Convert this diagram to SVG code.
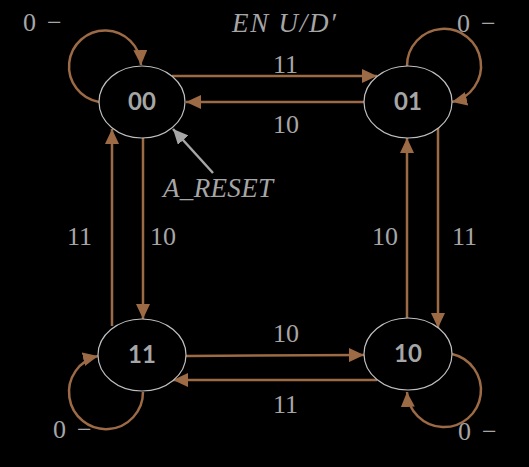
<svg xmlns="http://www.w3.org/2000/svg" width="529" height="467" viewBox="0 0 529 467">
<style>
.node{fill:#000;stroke:#bfbfbf;stroke-width:1.2}
.nt{font-family:Lato,"Open Sans",sans-serif;font-weight:bold;font-size:24px;fill:#a6a6a6;text-anchor:middle}
.lb{font-family:"Liberation Serif",serif;font-size:26px;fill:#a6a6a6}
.it{font-family:"Liberation Serif",serif;font-style:italic;font-size:27px;fill:#a6a6a6}
.e{fill:none;stroke:#9c6a44;stroke-width:2.5}
</style>
<defs>
<marker id="ah" markerUnits="userSpaceOnUse" markerWidth="16" markerHeight="14" refX="15" refY="7" orient="auto">
<path d="M0,0 L15,7 L0,14 Z" fill="#9c6a44"/>
</marker>
<marker id="ag" markerUnits="userSpaceOnUse" markerWidth="16" markerHeight="14" refX="15" refY="7" orient="auto">
<path d="M0,0 L15,7 L0,14 Z" fill="#a6a6a6"/>
</marker>
</defs>
<rect width="529" height="467" fill="#000"/>
<g id="connectors">
<path class="e" d="M172,76 L377,76" marker-end="url(#ah)"/>
<path class="e" d="M364,102 L186,102" marker-end="url(#ah)"/>
<path class="e" d="M143,138 L143,319" marker-end="url(#ah)"/>
<path class="e" d="M112,326 L112,129" marker-end="url(#ah)"/>
<path class="e" d="M438,127 L438,328" marker-end="url(#ah)"/>
<path class="e" d="M407,318 L407,138" marker-end="url(#ah)"/>
<path class="e" d="M186,356 L364,355" marker-end="url(#ah)"/>
<path class="e" d="M377,380 L173,380" marker-end="url(#ah)"/>
<path class="e" d="M99,102 A36 36 0 1 1 141,65" marker-end="url(#ah)"/>
<path class="e" d="M407,66 A37 37 0 1 1 452,102" marker-end="url(#ah)"/>
<path class="e" d="M143,392 A37 37 0 1 1 98,356" marker-end="url(#ah)"/>
<path class="e" d="M452,354 A37 37 0 1 1 407,392" marker-end="url(#ah)"/>
<path d="M213,173 L173,129" fill="none" stroke="#a6a6a6" stroke-width="2.5" marker-end="url(#ag)"/>
</g>
<g id="n00"><ellipse class="node" cx="142" cy="102" rx="43" ry="36"/><text class="nt" x="142" y="110">00</text></g>
<g id="n01"><ellipse class="node" cx="408" cy="102" rx="44" ry="36"/><text class="nt" x="408" y="110">01</text></g>
<g id="n11"><ellipse class="node" cx="142" cy="355" rx="44" ry="36"/><text class="nt" x="142" y="363">11</text></g>
<g id="n10"><ellipse class="node" cx="408" cy="354" rx="44" ry="36"/><text class="nt" x="408" y="362">10</text></g>
<g id="labels">
<text class="it" x="232" y="32" textLength="104" lengthAdjust="spacing">EN U/D′</text>
<text class="it" x="163" y="197" textLength="110" lengthAdjust="spacing">A_RESET</text>
<text class="lb" x="23" y="31">0<tspan x="47">−</tspan></text>
<text class="lb" x="457" y="32">0<tspan x="481">−</tspan></text>
<text class="lb" x="53" y="438">0<tspan x="77">−</tspan></text>
<text class="lb" x="458" y="440">0<tspan x="482">−</tspan></text>
<text class="lb" x="273" y="73">11</text>
<text class="lb" x="273" y="133">10</text>
<text class="lb" x="67" y="245">11</text>
<text class="lb" x="150" y="245">10</text>
<text class="lb" x="372" y="245">10</text>
<text class="lb" x="452" y="245">11</text>
<text class="lb" x="273" y="342">10</text>
<text class="lb" x="273" y="413">11</text>
</g>
</svg>
